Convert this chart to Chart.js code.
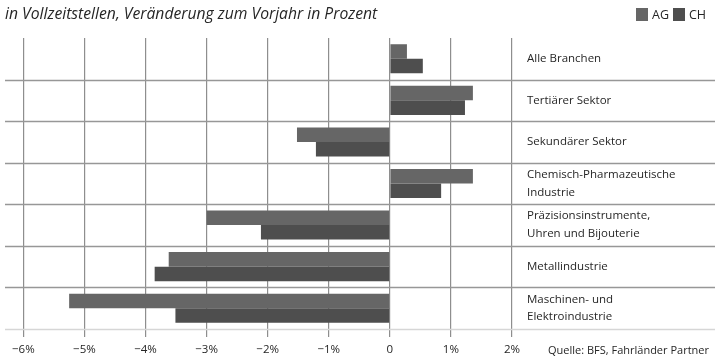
<!DOCTYPE html>
<html>
<head>
<meta charset="utf-8">
<script src="https://cdn.jsdelivr.net/npm/chart.js@4"></script>
<style>
  html, body { margin: 0; padding: 0; background: #fff; }
  #wrap { width: 715px; height: 359px; }
</style>
</head>
<body>
<div id="wrap"><canvas id="c" width="715" height="359"></canvas></div>
<script>
// Branches (multi-line labels as arrays)
const categories = [
  'Alle Branchen',
  'Tertiärer Sektor',
  'Sekundärer Sektor',
  ['Chemisch-Pharmazeutische', 'Industrie'],
  ['Präzisionsinstrumente,', 'Uhren und Bijouterie'],
  'Metallindustrie',
  ['Maschinen- und', 'Elektroindustrie']
];
// Change in full-time jobs vs. previous year, percent
const valuesAG = [0.28, 1.36, -1.52, 1.36, -3.0, -3.62, -5.25];
const valuesCH = [0.54, 1.23, -1.21, 0.84, -2.11, -3.85, -3.51];
const xTicks = [-6, -5, -4, -3, -2, -1, 0, 1, 2];

const FONT = "'Open Sans', 'DejaVu Sans', sans-serif";
const TEXT = '#262626';

// Title, legend and source line drawn on the canvas
const decorations = {
  id: 'decorations',
  afterDraw(chart) {
    const ctx = chart.ctx;
    ctx.save();
    ctx.fillStyle = TEXT;
    ctx.textBaseline = 'middle';
    ctx.textAlign = 'left';
    ctx.font = "italic 15.7px " + FONT;
    ctx.fillText('in Vollzeitstellen, Veränderung zum Vorjahr in Prozent', 5, 15);

    // legend from dataset labels/colours
    const items = chart.data.datasets;
    let x = 636;
    ctx.font = "12.5px " + FONT;
    items.forEach(ds => {
      ctx.fillStyle = ds.backgroundColor;
      ctx.fillRect(x, 8, 12, 13);
      ctx.fillStyle = TEXT;
      ctx.fillText(ds.label, x + 16, 15);
      x += 37;
    });

    ctx.font = "11px " + FONT;
    ctx.textAlign = 'left';
    ctx.fillText('Quelle: BFS, Fahrländer Partner', 548, 351);
    ctx.restore();
  }
};

// Row separators spanning plot and label column
const rowLines = {
  id: 'rowLines',
  beforeDatasetsDraw(chart) {
    const y = chart.scales.y;
    const ctx = chart.ctx;
    const left = chart.chartArea.left;
    const right = chart.width;
    ctx.save();
    ctx.lineWidth = 1.3;
    ctx.strokeStyle = '#979797';
    for (let i = 1; i < categories.length; i++) {
      const py = Math.round((y.getPixelForValue(i - 1) + y.getPixelForValue(i)) / 2) + 0.5;
      ctx.beginPath();
      ctx.moveTo(left, py);
      ctx.lineTo(right, py);
      ctx.stroke();
    }
    ctx.strokeStyle = '#d6d6d6';
    const pb = Math.round(chart.chartArea.bottom) + 0.5;
    ctx.beginPath();
    ctx.moveTo(left, pb);
    ctx.lineTo(right, pb);
    ctx.stroke();
    ctx.restore();
  }
};

new Chart(document.getElementById('c'), {
  type: 'bar',
  data: {
    labels: categories,
    datasets: [
      { label: 'AG', data: valuesAG, backgroundColor: '#666666', barPercentage: 1.0, categoryPercentage: 0.7 },
      { label: 'CH', data: valuesCH, backgroundColor: '#4e4e4e', barPercentage: 1.0, categoryPercentage: 0.7 }
    ]
  },
  options: {
    indexAxis: 'y',
    responsive: false,
    animation: false,
    layout: { padding: { top: 38, left: 5, right: 0, bottom: 0 } },
    plugins: { legend: { display: false }, tooltip: { enabled: false } },
    scales: {
      x: {
        type: 'linear',
        min: -6.3,
        max: 2,
        afterBuildTicks(scale) { scale.ticks = xTicks.map(v => ({ value: v })); },
        afterFit(scale) { scale.height = 30; },
        border: { display: false },
        grid: { color: '#8e8e8e', lineWidth: 1.2, tickLength: 8 },
        ticks: {
          color: TEXT,
          font: { family: FONT, size: 11.5 },
          padding: 6,
          maxRotation: 0,
          callback: v => v === 0 ? '0' : (v < 0 ? '−' + Math.abs(v) : v) + '%'
        }
      },
      y: {
        type: 'category',
        position: 'right',
        afterFit(scale) { scale.width = 203; },
        border: { display: false },
        grid: { display: false, drawTicks: false },
        ticks: {
          color: TEXT,
          font: { family: FONT, size: 11.5, lineHeight: 1.55 },
          padding: 15,
          crossAlign: 'near'
        }
      }
    }
  },
  plugins: [rowLines, decorations]
});
</script>
</body>
</html>
